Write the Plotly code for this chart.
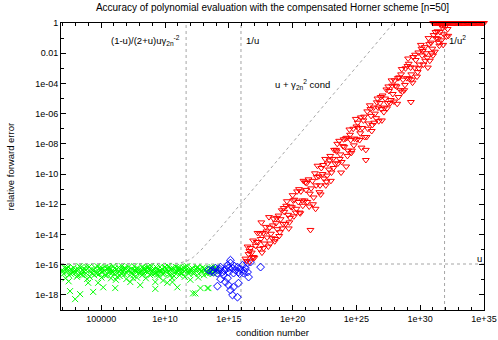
import plotly.graph_objects as go
import numpy as np

# ---------------- data (log10 of condition number / relative error) ----------------
green_cond_exp = [
    1.95, 2.05, 2.12, 2.20, 2.31, 2.40, 2.48, 2.56, 2.63, 2.75,
    2.84, 2.96, 3.02, 3.10, 3.21, 3.30, 3.35, 3.44, 3.55, 3.63,
    3.72, 3.80, 3.90, 3.98, 4.05, 4.15, 4.22, 4.37, 4.45, 4.52,
    4.60, 4.71, 4.76, 4.85, 4.93, 5.02, 5.10, 5.16, 5.25, 5.33,
    5.42, 5.50, 5.60, 5.68, 5.77, 5.85, 5.95, 6.03, 6.10, 6.20,
    6.28, 6.35, 6.45, 6.55, 6.62, 6.70, 6.80, 6.90, 6.97, 7.05,
    7.15, 7.28, 7.35, 7.45, 7.52, 7.60, 7.70, 7.80, 7.88, 7.95,
    8.06, 8.15, 8.22, 8.30, 8.40, 8.50, 8.58, 8.65, 8.75, 8.85,
    8.92, 9.00, 9.10, 9.24, 9.24, 9.30, 9.40, 9.50, 9.60, 9.70,
    9.78, 9.85, 9.95, 10.05, 10.18, 10.25, 10.35, 10.45, 10.55, 10.58,
    10.65, 10.75, 10.85, 10.97, 11.05, 11.15, 11.25, 11.35, 11.45, 11.55,
    11.65, 11.75, 11.85, 11.99, 12.05, 12.15, 12.20, 12.30, 12.38, 12.45,
    12.55, 12.65, 12.78, 12.85, 12.95, 13.05, 13.15, 13.25, 13.33, 13.40,
    13.50, 13.60, 13.70, 13.80, 13.90, 14.00, 14.10, 2.70, 3.50, 5.90,
    6.50, 7.40, 8.10, 8.80, 9.55, 10.40, 11.10, 11.90, 12.70, 13.55,
    2.25, 3.05, 4.30, 4.95, 5.55, 6.75, 7.65, 8.45, 9.15, 10.10,
    2.00, 2.35, 2.60, 2.90, 3.15, 3.40, 3.68, 3.85, 4.10, 4.40,
    4.65, 4.90, 5.05, 5.30, 5.65, 5.80, 6.05, 6.25, 6.40, 6.60,
    6.85, 7.00, 7.20, 7.50, 7.75, 7.90, 8.20, 8.35, 8.55, 8.70,
    8.95, 9.05, 9.35, 9.45, 9.65, 9.90, 10.00, 10.30, 10.50, 10.70,
    10.90, 11.00, 11.20, 11.40, 11.60, 11.80, 12.00, 12.25, 12.50, 12.60,
    12.90, 13.10, 13.30, 13.45, 13.65, 13.85, 14.05, 2.45, 6.15, 9.85,
]
green_err_exp = [
    -16.35, -16.60, -16.20, -16.90, -16.45, -16.15, -16.70, -17.75, -16.30, -16.55,
    -16.20, -18.28, -16.50, -16.80, -16.30, -16.10, -17.95, -16.60, -16.40, -16.25,
    -16.65, -16.35, -16.95, -17.20, -16.15, -16.50, -16.30, -17.80, -16.70, -16.20,
    -16.45, -16.10, -17.20, -16.60, -16.35, -16.85, -16.25, -17.50, -16.40, -16.15,
    -16.70, -16.30, -16.50, -16.20, -16.90, -16.40, -16.10, -16.60, -17.55, -16.30,
    -16.55, -16.20, -16.75, -16.35, -16.10, -16.45, -16.65, -16.25, -16.95, -16.40,
    -16.15, -17.15, -16.50, -16.30, -16.70, -16.10, -16.45, -16.85, -16.25, -16.55,
    -17.35, -16.35, -16.15, -16.60, -16.40, -16.90, -16.20, -16.50, -16.30, -16.70,
    -16.10, -16.45, -16.25, -17.60, -17.15, -16.55, -16.35, -16.80, -16.15, -16.50,
    -16.30, -16.65, -16.20, -16.45, -17.20, -16.10, -16.60, -16.35, -16.90, -17.15,
    -16.25, -16.50, -16.15, -17.50, -16.40, -16.70, -16.30, -16.55, -16.20, -16.80,
    -16.35, -16.10, -16.60, -17.00, -16.45, -16.25, -17.90, -16.50, -17.90, -16.30,
    -16.15, -16.60, -17.55, -16.40, -16.20, -16.70, -16.35, -16.50, -17.55, -17.55,
    -16.25, -16.45, -16.30, -16.60, -16.20, -16.40, -16.35, -16.40, -16.70, -16.50,
    -16.30, -16.60, -16.50, -16.25, -16.40, -16.70, -16.20, -16.45, -16.30, -16.55,
    -16.25, -16.35, -16.55, -16.30, -16.20, -16.30, -16.35, -16.25, -16.60, -16.30,
    -16.45, -16.25, -16.60, -16.40, -16.70, -16.20, -16.45, -16.15, -16.80, -16.35,
    -16.60, -16.20, -16.50, -16.70, -16.35, -16.55, -16.25, -16.80, -16.45, -16.60,
    -16.20, -16.55, -16.35, -16.90, -16.25, -16.40, -16.70, -16.25, -16.45, -16.15,
    -16.60, -16.35, -16.20, -16.65, -16.40, -16.55, -16.15, -16.40, -16.25, -16.75,
    -16.45, -16.20, -16.55, -16.35, -16.15, -16.45, -16.30, -16.60, -16.20, -16.85,
    -16.45, -16.25, -16.60, -16.40, -16.15, -16.45, -16.25, -17.10, -17.00, -17.05,
]

blue_cond_exp = [
    13.41, 13.72, 13.96, 14.11, 14.19, 14.35, 14.50, 14.58, 14.74, 14.90,
    14.98, 15.13, 15.29, 15.37, 15.53, 15.68, 15.76, 15.92, 16.08, 16.15,
    16.31, 16.47, 16.55, 16.47, 16.70, 17.49, 15.13, 14.11, 14.74, 14.90,
    14.98, 15.13, 15.29, 15.68, 15.76, 14.35, 15.37, 13.80, 14.30, 14.65,
    15.00, 15.45, 15.85, 16.20, 13.60,
]
blue_err_exp = [
    -16.36, -16.36, -16.23, -16.56, -16.36, -16.16, -16.49, -16.69, -16.29, -16.03,
    -16.49, -15.89, -16.23, -16.56, -16.36, -16.16, -16.49, -16.29, -16.03, -16.56,
    -16.23, -16.49, -16.82, -15.89, -15.83, -16.16, -15.70, -17.42, -17.15, -16.89,
    -17.35, -17.68, -18.01, -18.15, -17.22, -16.95, -17.48, -16.50, -16.30, -16.40,
    -16.20, -16.10, -16.60, -16.40, -16.45,
]

red_cond_exp = [
    16.30, 16.40, 16.47, 16.55, 16.65, 16.70, 16.80, 16.90, 17.00, 17.10,
    17.25, 17.30, 17.40, 17.50, 17.60, 17.70, 17.80, 17.90, 18.00, 18.10,
    18.20, 18.30, 18.40, 18.50, 18.60, 18.70, 18.80, 18.90, 19.00, 19.06,
    19.15, 19.25, 19.35, 19.45, 19.55, 19.65, 19.75, 19.85, 19.95, 20.05,
    20.15, 20.25, 20.35, 20.45, 20.55, 20.65, 20.75, 20.85, 20.95, 21.05,
    21.15, 21.25, 21.40, 21.45, 21.55, 21.65, 21.75, 21.85, 21.95, 22.05,
    22.15, 22.25, 22.35, 22.45, 22.55, 22.65, 22.75, 22.85, 22.95, 23.05,
    23.15, 23.25, 23.35, 23.45, 23.55, 23.65, 23.75, 23.85, 23.95, 24.05,
    24.15, 24.25, 24.35, 24.45, 24.55, 24.65, 24.75, 24.85, 24.95, 25.05,
    25.15, 25.25, 25.35, 25.45, 25.55, 25.74, 25.74, 25.65, 25.85, 25.95,
    26.05, 26.15, 26.25, 26.35, 26.45, 26.55, 26.65, 26.75, 26.85, 26.95,
    27.05, 27.15, 27.25, 27.35, 27.45, 27.55, 27.65, 27.75, 27.85, 27.95,
    28.05, 28.15, 28.25, 28.35, 28.45, 28.55, 28.65, 28.75, 28.85, 28.95,
    29.05, 29.15, 29.27, 29.25, 29.35, 29.45, 29.55, 29.65, 29.75, 29.85,
    29.95, 30.05, 30.15, 30.25, 30.35, 30.45, 30.55, 30.65, 30.75, 30.85,
    30.95, 31.05, 31.15, 31.25, 31.35, 31.45, 31.55, 31.65, 31.75, 31.85,
    31.95, 32.05, 32.15, 18.15, 18.65, 19.30, 19.70, 20.10, 20.60, 21.00,
    21.30, 21.80, 22.20, 22.60, 23.00, 23.40, 23.80, 24.20, 24.60, 25.00,
    25.40, 25.80, 26.20, 26.60, 27.00, 27.40, 27.80, 28.20, 28.60, 29.00,
    29.40, 29.80, 30.20, 30.60, 31.00, 31.40, 31.80, 32.20, 17.55, 16.85,
    16.62, 16.95, 17.18, 17.45, 17.72, 17.95, 18.25, 18.45, 18.75, 18.95,
    19.20, 19.50, 19.80, 20.00, 20.30, 20.50, 20.80, 21.10, 21.35, 21.60,
    21.90, 22.10, 22.40, 22.70, 22.90, 23.20, 23.50, 23.70, 24.00, 24.30,
    24.50, 24.80, 25.10, 25.30, 25.60, 25.90, 26.10, 26.40, 26.70, 26.90,
    27.20, 27.50, 27.70, 28.00, 28.30, 28.50, 28.80, 29.10, 29.30, 29.60,
    29.90, 30.10, 30.40, 30.70, 30.90, 31.20, 31.50, 31.70,
]
red_err_exp = [
    -15.60, -15.75, -14.80, -15.30, -15.80, -14.90, -15.20, -14.40, -15.55, -14.75,
    -13.90, -14.50, -14.95, -14.30, -15.20, -13.90, -14.60, -13.50, -14.20, -14.80,
    -13.55, -13.95, -14.25, -12.95, -14.45, -13.25, -13.65, -12.75, -13.85, -12.99,
    -12.40, -13.30, -12.50, -13.30, -11.80, -12.70, -13.20, -12.15, -12.20, -11.75,
    -11.70, -12.55, -11.15, -11.85, -12.55, -11.15, -11.75, -10.45, -11.75, -11.05,
    -11.85, -10.35, -13.70, -10.95, -10.45, -11.55, -9.95, -10.75, -9.45, -10.15,
    -10.75, -9.60, -10.00, -10.30, -9.00, -10.50, -9.30, -9.70, -8.80, -9.90,
    -9.00, -8.40, -9.30, -8.50, -9.30, -7.80, -8.70, -9.20, -8.15, -8.20,
    -7.65, -7.60, -8.45, -7.05, -7.75, -8.45, -7.00, -7.65, -6.35, -7.70,
    -6.95, -7.75, -6.25, -6.95, -6.45, -9.07, -8.40, -7.55, -5.85, -6.65,
    -5.45, -6.15, -6.75, -5.60, -6.00, -6.30, -5.00, -6.50, -5.30, -5.70,
    -4.80, -5.90, -5.00, -4.40, -5.30, -4.50, -5.30, -3.80, -4.70, -5.20,
    -4.15, -4.20, -3.65, -3.60, -4.45, -3.05, -3.75, -4.45, -3.00, -3.65,
    -2.35, -3.70, -5.23, -2.95, -3.75, -2.25, -2.95, -2.45, -3.55, -1.95,
    -2.75, -1.45, -2.15, -2.75, -1.60, -2.00, -2.30, -1.00, -2.50, -1.30,
    -1.70, -0.80, -1.90, -1.00, -0.55, -1.30, -0.60, -1.15, -0.30, -0.75,
    -0.25, -0.90, -0.40, -12.85, -14.30, -12.25, -13.60, -12.80, -12.60, -10.55,
    -12.15, -12.30, -11.35, -10.75, -10.45, -8.40, -9.90, -9.50, -8.60, -6.85,
    -8.25, -7.55, -7.15, -5.25, -6.45, -5.65, -4.15, -5.35, -4.55, -2.85,
    -3.95, -3.25, -1.85, -2.95, -2.15, -1.05, -1.45, -0.85, -13.20, -15.50,
    -15.10, -15.50, -14.50, -13.95, -14.90, -13.80, -14.60, -13.40, -12.90, -14.10,
    -13.60, -12.10, -12.90, -11.40, -12.30, -11.00, -12.10, -10.60, -11.30, -12.00,
    -10.20, -11.20, -9.40, -10.10, -9.10, -9.60, -8.00, -9.00, -7.70, -8.80,
    -7.40, -8.10, -6.60, -7.30, -6.20, -7.00, -5.70, -6.60, -5.60, -4.90,
    -5.60, -4.20, -5.10, -3.80, -4.90, -3.40, -4.10, -2.70, -3.40, -2.10,
    -3.00, -1.70, -2.50, -1.40, -2.00, -0.60, -1.50, -0.15,
]

sat_cond_exp = [
    31.02, 31.11, 31.19, 31.28, 31.37, 31.44, 31.53, 31.62, 31.70, 31.79,
    31.88, 31.96, 32.05, 32.14, 32.22, 32.31, 32.40, 32.48, 32.57, 32.66,
    32.74, 32.83, 32.92, 33.01, 33.09, 33.18, 33.27, 33.35, 33.44, 33.53,
    33.62, 33.70, 33.79, 33.88, 33.96, 34.05, 34.14, 34.23, 34.31, 34.40,
    34.49, 34.57, 34.66, 34.75, 34.84, 34.92, 35.00,
]
sat_err_exp = [0.0] * len(sat_cond_exp)

# ---------------- theoretical constants ----------------
u = 2.0 ** -53
n = 50
gamma2n = 2 * n * u / (1 - 2 * n * u)
cond_a = (1 - u) / (2 + u) * u / gamma2n ** 2
cond_inv_u = 1 / u
cond_inv_u2 = 1 / u ** 2

x_lo, x_hi = 1.85, 35.0
y_lo, y_hi = -19.0, 0.0

bound_cond = np.logspace(x_lo, x_hi, 400)
bound_err = u + gamma2n ** 2 * bound_cond

def p10(v):
    return [10.0 ** e for e in v]

font = "Liberation Sans, Arial, sans-serif"
dot = dict(color="rgb(165,165,165)", width=1, dash="dot")

fig = go.Figure()

fig.add_trace(go.Scatter(x=[10 ** x_lo, 10 ** x_hi], y=[u, u], mode="lines", line=dot, hoverinfo="skip"))
for c in (cond_a, cond_inv_u, cond_inv_u2):
    fig.add_trace(go.Scatter(x=[c, c], y=[10 ** y_lo, 10 ** y_hi], mode="lines", line=dot, hoverinfo="skip"))
fig.add_trace(go.Scatter(x=bound_cond, y=bound_err, mode="lines", line=dot, hoverinfo="skip"))

fig.add_trace(go.Scatter(
    x=p10(green_cond_exp), y=p10(green_err_exp), mode="markers",
    marker=dict(symbol="x-thin", size=6, line=dict(color="#00ff00", width=1), color="#00ff00"),
))
fig.add_trace(go.Scatter(
    x=p10(blue_cond_exp), y=p10(blue_err_exp), mode="markers",
    marker=dict(symbol="diamond-open", size=6, color="#0000ff", line=dict(width=1)),
))
fig.add_trace(go.Scatter(
    x=p10(red_cond_exp) + p10(sat_cond_exp), y=p10(red_err_exp) + p10(sat_err_exp), mode="markers",
    marker=dict(symbol="triangle-down-open", size=6, color="#ff0000", line=dict(width=1)),
    cliponaxis=False,
))

x_major = [1e5, 1e10, 1e15, 1e20, 1e25, 1e30, 1e35]
x_major_text = ["100000", "1e+10", "1e+15", "1e+20", "1e+25", "1e+30", "1e+35"]
y_major = [1, 1e-2, 1e-4, 1e-6, 1e-8, 1e-10, 1e-12, 1e-14, 1e-16, 1e-18]
y_major_text = ["1", "0.01", "1e-04", "1e-06", "1e-08", "1e-10", "1e-12", "1e-14", "1e-16", "1e-18"]

fig.update_layout(
    width=498, height=340,
    margin=dict(l=61, r=14, t=23, b=30, autoexpand=False),
    paper_bgcolor="white", plot_bgcolor="white",
    showlegend=False,
    font=dict(family=font, size=9, color="black"),
    title=dict(text="Accuracy of polynomial evaluation with the compensated Horner scheme [n=50]",
               x=0.5, xref="paper", xanchor="center", y=1 - 7 / 340, yref="container", yanchor="middle",
               font=dict(size=10, family=font, color="black")),
)
fig.update_xaxes(
    type="log", range=[x_lo, x_hi], showgrid=False, zeroline=False, automargin=False,
    showline=True, linecolor="black", linewidth=1, mirror="ticks",
    ticks="inside", ticklen=5, tickcolor="black",
    tickmode="array", tickvals=x_major, ticktext=x_major_text,
    minor=dict(ticks="inside", ticklen=3, tickcolor="black", tickmode="array",
               tickvals=[10.0 ** k for k in range(2, 36)]),
    tickfont=dict(size=9, family=font),
)
fig.update_yaxes(
    type="log", range=[y_lo, y_hi], showgrid=False, zeroline=False, automargin=False,
    showline=True, linecolor="black", linewidth=1, mirror="ticks",
    ticks="inside", ticklen=5, tickcolor="black",
    tickmode="array", tickvals=y_major, ticktext=y_major_text,
    minor=dict(ticks="inside", ticklen=3, tickcolor="black", tickmode="array",
               tickvals=[10.0 ** -k for k in range(1, 19, 2)]),
    tickfont=dict(size=9, family=font),
)

ann = [
    dict(text="(1-u)/(2+u)uγ<sub>2n</sub><sup>-2</sup>", x=np.log10(cond_a), y=-1.13,
         xanchor="right", yanchor="middle", xshift=-4),
    dict(text="1/u", x=np.log10(cond_inv_u), y=-1.13, xanchor="left", yanchor="middle", xshift=3),
    dict(text="1/u<sup>2</sup>", x=np.log10(cond_inv_u2), y=-1.13, xanchor="left", yanchor="middle", xshift=2),
    dict(text="u + γ<sub>2n</sub><sup>2</sup> cond", x=18.43, y=-4.04, xanchor="left", yanchor="middle"),
    dict(text="u", x=34.3, y=-15.56, xanchor="left", yanchor="middle"),
]
for a in ann:
    fig.add_annotation(showarrow=False, xref="x", yref="y", font=dict(size=9.5, family=font, color="black"), **a)

fig.add_annotation(text="condition number", xref="paper", yref="paper", x=0.5, y=0,
                   xanchor="center", yanchor="top", yshift=-15, showarrow=False,
                   font=dict(size=9.5, family=font, color="black"))
fig.add_annotation(text="relative forward error", xref="paper", yref="paper", x=0, y=0.5,
                   xanchor="center", yanchor="middle", xshift=-51, textangle=-90, showarrow=False,
                   font=dict(size=9.5, family=font, color="black"))

fig.write_html("out.html", config={"displayModeBar": False},
               post_script="document.body.style.margin='0';document.body.style.padding='0';")
